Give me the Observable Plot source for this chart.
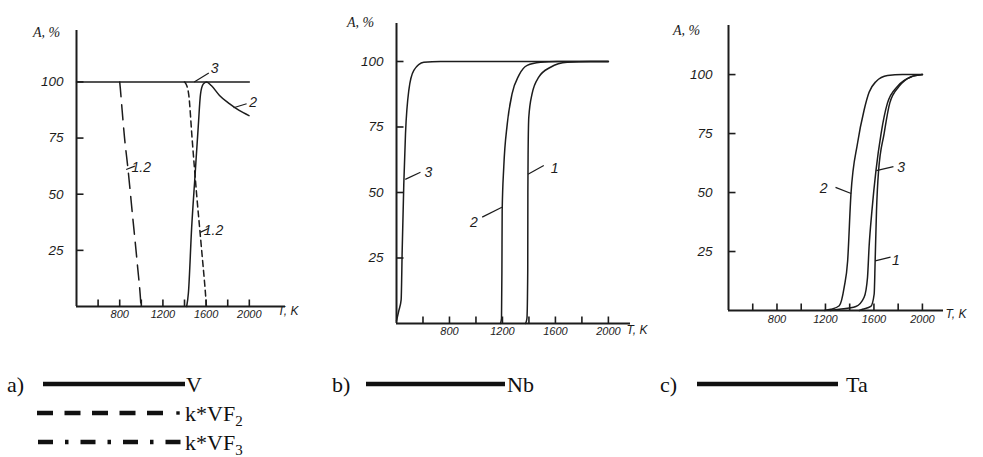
<!DOCTYPE html>
<html><head><meta charset="utf-8">
<script src="https://cdn.jsdelivr.net/npm/d3@7"></script>
<script src="https://cdn.jsdelivr.net/npm/@observablehq/plot@0.6"></script>
<style>
body{margin:0;background:#fff;width:983px;height:457px;overflow:hidden;position:relative;}
.panel{position:absolute;top:0;}
#legend{position:absolute;left:0;top:360px;}
</style></head><body>
<div id="pa" class="panel" style="left:0px"></div>
<div id="pb" class="panel" style="left:320px"></div>
<div id="pc" class="panel" style="left:650px"></div>
<svg id="legend" width="983" height="97"></svg>
<script>
const yTicks = [25, 50, 75, 100];
const xMinor = [600, 800, 1000, 1200, 1400, 1600, 1800, 2000];
const xMajor = [800, 1200, 1600, 2000];
const yTitle = "A, %";
const xTitle = "T, K";

const aLine3 = [[400, 100], [2000, 100]];
const aLine2 = [[1420, 0], [1436, 6], [1466, 35], [1497, 58], [1527, 80], [1548, 94.5], [1573, 99], [1603, 100], [1648, 98.4], [1724, 94], [1815, 90.3], [1906, 87.3], [1997, 85]];
const aDashVF2 = [[800, 100], [806, 97], [818, 90], [845, 75], [875, 62], [920, 40], [965, 18], [993, 3], [997, 0]];
const aDashVF3 = [[1400, 100], [1415, 99], [1440, 94], [1470, 75], [1512, 50], [1557, 26], [1600, 2], [1603, 0]];
const aLabels = [
  {t: "3", x: 1680, y: 106, x1: 1490, y1: 100, x2: 1625, y2: 104},
  {t: "2", x: 2035, y: 91, x1: 1854, y1: 88.5, x2: 1975, y2: 90.3},
  {t: "1.2", x: 1000, y: 62, x1: 860, y1: 61, x2: 940, y2: 62.5},
  {t: "1.2", x: 1668, y: 34, x1: 1545, y1: 33, x2: 1622, y2: 34.7}
];

const bLine3 = [[400, 1], [418, 5], [435, 9], [443, 28], [455, 53], [468, 72.5], [493, 89], [531, 96.6], [606, 99.7], [732, 100], [2000, 100]];
const bLine2 = [[1185, 0], [1193, 2], [1196, 20], [1198, 43], [1210, 59.7], [1236, 76], [1273, 87.7], [1324, 94.7], [1387, 98.5], [1487, 99.7], [1613, 100], [2000, 100]];
const bLine1 = [[1375, 0], [1385, 2], [1391, 20], [1392, 50], [1394, 66], [1399, 78.7], [1424, 87.7], [1474, 94], [1563, 97.8], [1689, 99.7], [1865, 100], [2000, 100]];
const bLabels = [
  {t: "3", x: 640, y: 57.7, x1: 466, y1: 55, x2: 581, y2: 57.7},
  {t: "2", x: 984, y: 38.7, x1: 1047, y1: 40.6, x2: 1196, y2: 44.4},
  {t: "1", x: 1595, y: 59, x1: 1393, y1: 57, x2: 1512, y2: 60.3}
];

const cLine2 = [[1190, 0], [1245, 0.5], [1314, 2], [1355, 10], [1383, 21], [1410, 49], [1465, 71], [1519, 85], [1560, 92.5], [1616, 97], [1712, 99.6], [1835, 100], [2000, 100]];
const cLine3 = [[1240, 0], [1314, 0.5], [1451, 1.7], [1519, 5.6], [1547, 14], [1560, 27], [1583, 42], [1616, 59], [1659, 75], [1712, 88], [1794, 95], [1904, 99], [2000, 100]];
const cLine1 = [[1480, 0], [1506, 0.5], [1574, 1.7], [1602, 7], [1610, 21], [1621, 42], [1638, 59], [1684, 75], [1731, 88], [1807, 95], [1904, 99], [2000, 100]];
const cLabels = [
  {t: "2", x: 1184, y: 51.7, x1: 1412, y1: 49.6, x2: 1283, y2: 52.2},
  {t: "3", x: 1825, y: 60.7, x1: 1620, y1: 59.3, x2: 1761, y2: 61},
  {t: "1", x: 1782, y: 21.2, x1: 1610, y1: 21, x2: 1737, y2: 22.6}
];

const INK = "#1c1c1c";
const tickFont = "'Liberation Sans', 'DejaVu Sans', sans-serif";

function panel(cfg) {
  const xy = {x: d => d[0], y: d => d[1], curve: "monotone-x", stroke: INK, strokeWidth: 1.5};
  const x0 = cfg.xDomain[0];
  const plotW = cfg.width - cfg.ml - cfg.mr, plotH = cfg.height - cfg.mt - cfg.mb;
  const tickLenY = 7 * (cfg.yDomain[1] - cfg.yDomain[0]) / plotH;
  const tickLenX = 7 * (cfg.xDomain[1] - cfg.xDomain[0]) / plotW;
  const xTickRows = xMinor.map(v => ({x: v, ya: 0, yb: tickLenY}));
  const yTickRows = yTicks.map(v => ({y: v, xa: x0, xb: x0 + tickLenX}));
  return Plot.plot({
    width: cfg.width, height: cfg.height,
    marginLeft: cfg.ml, marginRight: cfg.mr, marginTop: cfg.mt, marginBottom: cfg.mb,
    style: {background: "transparent", color: INK, fontFamily: tickFont},
    x: {domain: cfg.xDomain, axis: null},
    y: {domain: cfg.yDomain, axis: null},
    marks: [
      Plot.ruleX([x0], {stroke: INK, strokeWidth: 2}),
      Plot.ruleY([0], {stroke: INK, strokeWidth: 2}),
      // inward ticks as short links, same field-channel style as the label leaders
      Plot.link(xTickRows, {x1: "x", x2: "x", y1: "ya", y2: "yb", stroke: INK, strokeWidth: 1.6}),
      Plot.link(yTickRows, {x1: "xa", x2: "xb", y1: "y", y2: "y", stroke: INK, strokeWidth: 1.6}),
      Plot.axisX(xMajor, {tickSize: 0, tickPadding: cfg.xPad, tickFormat: d => String(d), fontSize: 11, fontStyle: "italic", fill: INK}),
      Plot.axisY(yTicks, {tickSize: 0, tickPadding: cfg.yPad, tickFormat: d => String(d), fontSize: 13.5, fontStyle: "italic", fill: INK}),
      Plot.text([yTitle], {frameAnchor: "top-left", dx: cfg.ytDx, dy: cfg.ytDy, textAnchor: "middle", fontSize: 14, fontStyle: "italic", fontFamily: "'Liberation Serif', serif", fill: INK}),
      Plot.text([xTitle], {frameAnchor: "bottom-right", dx: cfg.xtDx, dy: cfg.xtDy, textAnchor: "start", fontSize: 12, fontStyle: "italic", fill: INK}),
      ...cfg.lines.map(l => Plot.line(l.data, {...xy, strokeDasharray: l.dash || null, strokeWidth: l.w || 1.5})),
      Plot.link(cfg.labels, {x1: "x1", y1: "y1", x2: "x2", y2: "y2", stroke: INK, strokeWidth: 1.2}),
      Plot.text(cfg.labels, {x: "x", y: "y", text: "t", fontSize: 14, fontStyle: "italic", fill: INK})
    ]
  });
}

document.getElementById("pa").append(panel({
  width: 320, height: 330, ml: 76, mr: 35, mt: 30, mb: 24,
  xDomain: [400, 2335], yDomain: [0, 122.9], xPad: 4, yPad: 13,
  ytDx: -30, ytDy: -3, xtDx: -8, xtDy: 8,
  lines: [
    {data: aLine3},
    {data: aLine2},
    {data: aDashVF2, dash: "15,8"},
    {data: aDashVF3, dash: "6,4"}
  ],
  labels: aLabels
}));

document.getElementById("pb").append(panel({
  width: 330, height: 345, ml: 76, mr: 20, mt: 23, mb: 22,
  xDomain: [400, 2167], yDomain: [0, 114.5], xPad: 4, yPad: 13,
  ytDx: -36, ytDy: -6, xtDx: -4, xtDy: 10,
  lines: [{data: bLine3}, {data: bLine2}, {data: bLine1}],
  labels: bLabels
}));

document.getElementById("pc").append(panel({
  width: 333, height: 330, ml: 78, mr: 40, mt: 25, mb: 20,
  xDomain: [400, 2174], yDomain: [0, 120.8], xPad: 5, yPad: 16,
  ytDx: -42, ytDy: 0, xtDx: 2, xtDy: 7,
  lines: [{data: cLine2}, {data: cLine3}, {data: cLine1}],
  labels: cLabels
}));

const legendRows = [
  {tag: "a)", tagX: 7, x1: 43, x2: 185, textX: 186, row: 0, dash: null, name: "V"},
  {tag: "", tagX: 0, x1: 37, x2: 166, textX: 185, row: 1, dash: "16,11.5", name: "k*VF", sub: "2", dot: 178},
  {tag: "", tagX: 0, x1: 38, x2: 182, textX: 185, row: 2, dash: "15,12,3.5,12", name: "k*VF", sub: "3"},
  {tag: "b)", tagX: 332, x1: 366, x2: 505, textX: 507, row: 0, dash: null, name: "Nb"},
  {tag: "c)", tagX: 660, x1: 697, x2: 838, textX: 846, row: 0, dash: null, name: "Ta"}
];
const lg = d3.select("#legend");
const rowY = [24, 53, 82];
for (const r of legendRows) {
  const y = rowY[r.row];
  if (r.tag) lg.append("text").attr("x", r.tagX).attr("y", y + 8).text(r.tag)
    .attr("font-family", "'Liberation Serif', serif").attr("font-size", 22).attr("fill", "#111");
  lg.append("line").attr("x1", r.x1).attr("x2", r.x2).attr("y1", y).attr("y2", y)
    .attr("stroke", "#111").attr("stroke-width", 4.5).attr("stroke-dasharray", r.dash);
  if (r.dot) lg.append("rect").attr("x", r.dot - 1.7).attr("y", y - 1.7).attr("width", 3.4).attr("height", 3.4).attr("fill", "#111");
  const t = lg.append("text").attr("x", r.textX).attr("y", y + 8)
    .attr("font-family", "'Liberation Serif', serif").attr("font-size", 22).attr("fill", "#111").text(r.name);
  if (r.sub) t.append("tspan").attr("dy", 5).attr("font-size", 15).text(r.sub);
}
</script>
</body></html>
